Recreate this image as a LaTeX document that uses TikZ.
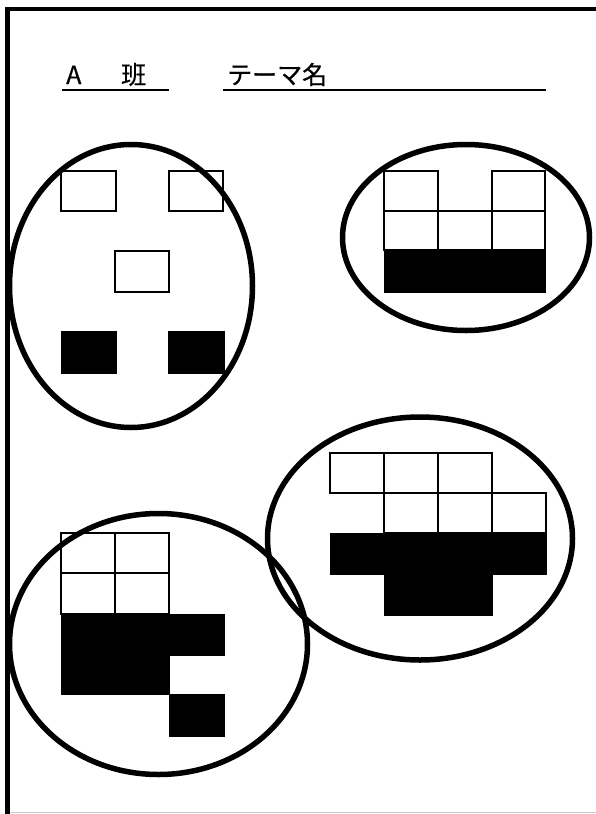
\documentclass[tikz,border=0pt]{standalone}
\usepackage{fontspec}
\newfontfamily\jpfont[FakeBold=0.6]{Noto Sans CJK JP}
\tikzset{
  cell/.style={draw=black, line width=1.5pt, fill=white},
  blk/.style={draw=black, line width=1pt, fill=black},
  group/.style={draw=black, line width=5.5pt},
  frame/.style={draw=black, line width=4.5pt},
  uline/.style={draw=black, line width=1.6pt},
  lbl/.style={inner sep=0pt, anchor=base west, font=\jpfont\fontsize{25pt}{25pt}\selectfont}
}
\begin{document}
\begin{tikzpicture}[x=1pt,y=-1pt]
\useasboundingbox (0,0) rectangle (596,814);
\fill[white] (0,0) rectangle (596,814);
% frame
\draw[gray!40, line width=1pt] (10,812.8) -- (596,812.8);
\draw[frame] (5,9) -- (596,9);
\draw[frame] (7.5,7) -- (7.5,814);
% header
\node[lbl] (a) at (66,84) {A};
\node[lbl] (han) at (121,84) {班};
\node[lbl] (theme) at (227,84) {テーマ名};
\coordinate (u1a) at (62,90); \coordinate (u1b) at (169,90);
\coordinate (u2a) at (223,90); \coordinate (u2b) at (546,90);
\draw[uline] (u1a) -- (u1b);
\draw[uline] (u2a) -- (u2b);
% group 1 (top left)
\draw[cell] (61,171) rectangle (116,211);
\draw[cell] (169,171) rectangle (223,211);
\draw[cell] (115,251) rectangle (169,292);
\draw[blk] (61,331) rectangle (116,373);
\draw[blk] (168,331) rectangle (224,373);
% group 2 (top right)
\draw[cell] (384,171) rectangle (438,211);
\draw[cell] (492,171) rectangle (545,211);
\draw[cell] (384,211) rectangle (438,250);
\draw[cell] (438,211) rectangle (492,250);
\draw[cell] (492,211) rectangle (545,250);
\draw[blk] (384,250) rectangle (545,292);
% group 3 (bottom right)
\draw[cell] (330,453) rectangle (384,493);
\draw[cell] (384,453) rectangle (438,493);
\draw[cell] (438,453) rectangle (492,493);
\draw[cell] (384,493) rectangle (438,533);
\draw[cell] (438,493) rectangle (492,533);
\draw[cell] (492,493) rectangle (546,533);
\draw[blk] (330,533) rectangle (546,574);
\draw[blk] (384,574) rectangle (492,615);
% group 4 (bottom left)
\draw[cell] (61,533) rectangle (115,573);
\draw[cell] (115,533) rectangle (169,573);
\draw[cell] (61,573) rectangle (115,614);
\draw[cell] (115,573) rectangle (169,614);
\draw[blk] (61,614) rectangle (224,655);
\draw[blk] (61,655) rectangle (169,694);
\draw[blk] (169,694) rectangle (224,736);
% ellipses
\draw[group] (131,286) ellipse [x radius=121.5, y radius=141.5];
\draw[group] (466,237.5) ellipse [x radius=123.5, y radius=93];
\draw[group] (420,538.5) ellipse [x radius=152.5, y radius=121.5];
\draw[group] (158.5,644) ellipse [x radius=149, y radius=130.5];
\end{tikzpicture}
\end{document}
